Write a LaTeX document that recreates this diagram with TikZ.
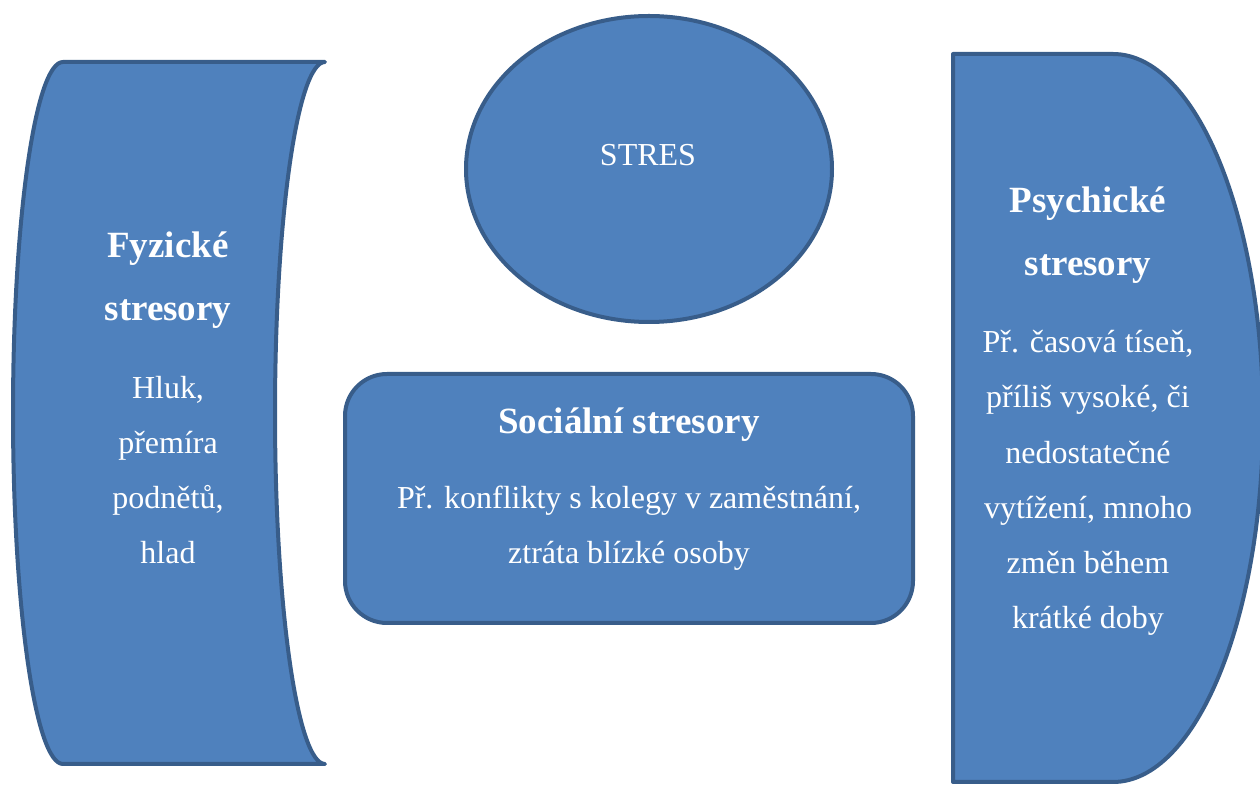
\documentclass[tikz,border=0pt]{standalone}
\usepackage{fontspec}
\setmainfont{Liberation Serif}
\usetikzlibrary{shapes.geometric}

\definecolor{boxfill}{HTML}{4F81BD}
\definecolor{boxline}{HTML}{385D8A}

\tikzset{
  blob/.style={fill=boxfill, draw=boxline, line width=2pt, line join=round},
  headtext/.style={text=white, font=\fontsize{18.5}{31.5}\selectfont\bfseries, align=center, anchor=base, inner sep=0pt},
  bodytext/.style={text=white, font=\fontsize{16}{27.65}\selectfont, align=center, anchor=base, inner sep=0pt},
}

\begin{document}
\begin{tikzpicture}[x=0.5pt, y=-0.5pt]
    \useasboundingbox (0,0) rectangle (1260,785);

    % left shape (stored data)
    \draw[blob] (63,62) -- (325,62)
      .. controls (297.4,62) and (275,219.1) .. (275,413)
      .. controls (275,606.9) and (297.4,764) .. (325,764)
      -- (63,764)
      .. controls (35.4,764) and (13,606.9) .. (13,413)
      .. controls (13,219.1) and (35.4,62) .. (63,62) -- cycle;

    % right shape (delay)
    \draw[blob] (953,54) -- (1113,54)
      .. controls (1195.8,54) and (1263,217) .. (1263,418)
      .. controls (1263,619) and (1195.8,782) .. (1113,782)
      -- (953,782) -- cycle;

    \node[blob, ellipse, minimum width=183pt, minimum height=153pt, inner sep=0pt] (stres) at (649,169) {};
    \node[blob, rectangle, rounded corners=21pt, minimum width=284pt, minimum height=124.5pt] (social) at (629,498.5) {};

    % base anchor = baseline of the last line
    \node[headtext] (fyzHead) at (168,321) {Fyzické\\stresory};
    \node[bodytext] (fyzBody) at (168,564) {Hluk,\\přemíra\\podnětů,\\hlad};

    \node[bodytext] (stresText) at (648,166) {STRES};

    \node[headtext] (socHead) at (629,434) {Sociální stresory};
    \node[bodytext] (socBody) at (629,564) {Př. konflikty s kolegy v zaměstnání,\\ztráta blízké osoby};

    \node[headtext] (psyHead) at (1088,276) {Psychické\\stresory};
    \node[bodytext] (psyBody) at (1088,629) {Př. časová tíseň,\\příliš vysoké, či\\nedostatečné\\vytížení, mnoho\\změn během\\krátké doby};

\end{tikzpicture}
\end{document}
